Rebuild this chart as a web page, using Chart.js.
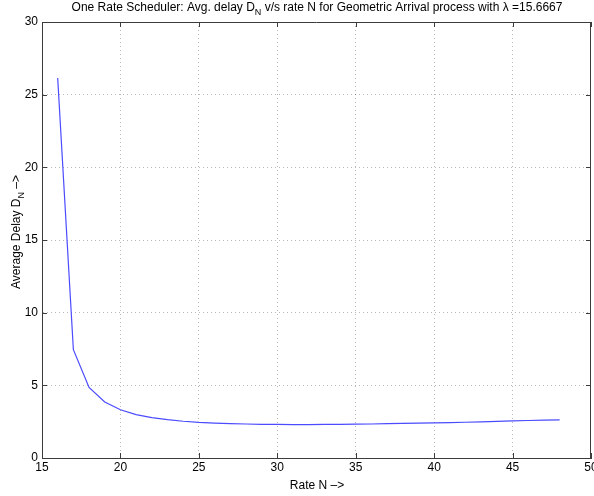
<!DOCTYPE html>
<html>
<head>
<meta charset="utf-8">
<script src="https://cdn.jsdelivr.net/npm/chart.js@4"></script>
<style>
  html, body { margin: 0; padding: 0; background: #fff; }
  #wrap { width: 594px; height: 496px; }
</style>
</head>
<body>
<div id="wrap"><canvas id="myChart" width="594" height="496"></canvas></div>
<script>
// data
let rates = [16, 17, 18, 19, 20, 21, 22, 23, 24, 25, 26, 27, 28, 29, 30, 31, 32,
             33, 34, 35, 36, 37, 38, 39, 40, 41, 42, 43, 44, 45, 46, 47, 48];
let delays = [26.15, 7.45, 4.85, 3.85, 3.32, 2.98, 2.78, 2.64, 2.53, 2.45, 2.40, 2.36, 2.34, 2.32, 2.31, 2.30, 2.30,
              2.31, 2.32, 2.33, 2.34, 2.36, 2.38, 2.40, 2.42, 2.44, 2.46, 2.49, 2.52, 2.55, 2.58, 2.61, 2.63];
let xTicks = [15, 20, 25, 30, 35, 40, 45, 50];
let yTicks = [0, 5, 10, 15, 20, 25, 30];

const FONT = "'Liberation Sans', Arial, sans-serif";
const axisColor = "#3c3c3c";

// text with a subscript part: parts = [[text, isSub], ...]
function partsWidth(ctx, parts, size) {
    let w = 0;
    parts.forEach(p => {
        ctx.font = (p[1] ? size * 0.75 : size) + "px " + FONT;
        w += ctx.measureText(p[0]).width;
    });
    return w;
}
function drawParts(ctx, parts, x, y, size) {
    let cx = x;
    parts.forEach(p => {
        ctx.font = (p[1] ? size * 0.75 : size) + "px " + FONT;
        ctx.fillText(p[0], cx, p[1] ? y + size * 0.3 : y);
        cx += ctx.measureText(p[0]).width;
    });
}

const labelsPlugin = {
    id: "labels",
    afterDraw(chart) {
        const ctx = chart.ctx;
        const area = chart.chartArea;
        const xs = chart.scales.x, ys = chart.scales.y;
        ctx.save();
        // frame top/right + inward ticks
        ctx.strokeStyle = axisColor;
        ctx.lineWidth = 1;
        ctx.beginPath();
        ctx.moveTo(area.left, area.top + 0.5);
        ctx.lineTo(area.right, area.top + 0.5);
        ctx.moveTo(area.right - 0.5, area.top);
        ctx.lineTo(area.right - 0.5, area.bottom);
        xTicks.forEach(v => {
            let px = Math.round(xs.getPixelForValue(v)) + 0.5;
            ctx.moveTo(px, area.bottom); ctx.lineTo(px, area.bottom - 5);
            ctx.moveTo(px, area.top); ctx.lineTo(px, area.top + 5);
        });
        yTicks.forEach(v => {
            let py = Math.round(ys.getPixelForValue(v)) + 0.5;
            ctx.moveTo(area.left, py); ctx.lineTo(area.left + 5, py);
            ctx.moveTo(area.right, py); ctx.lineTo(area.right - 5, py);
        });
        ctx.stroke();

        ctx.fillStyle = "#000";
        ctx.textBaseline = "alphabetic";
        ctx.textAlign = "left";
        const size = 12;
        // title
        const title = [["One Rate Scheduler: Avg. delay D", false], ["N", true],
                       [" v/s rate N for Geometric Arrival process with \u03bb =15.6667", false]];
        let tw = partsWidth(ctx, title, size);
        drawParts(ctx, title, 317 - tw / 2, 11, size);
        // x label
        const xl = [["Rate N \u2013>", false]];
        let xw = partsWidth(ctx, xl, size);
        drawParts(ctx, xl, 317 - xw / 2, 489, size);
        // y label, rotated
        const yl = [["Average Delay D", false], ["N", true], [" \u2013>", false]];
        let yw = partsWidth(ctx, yl, size);
        ctx.translate(20, 232);
        ctx.rotate(-Math.PI / 2);
        drawParts(ctx, yl, -yw / 2, 0, size);
        ctx.restore();
    }
};

new Chart("myChart", {
    type: "line",
    data: {
        datasets: [{
            data: rates.map((r, i) => ({ x: r, y: delays[i] })),
            borderColor: "rgb(75,75,255)",
            borderWidth: 1.2,
            pointRadius: 0,
            tension: 0,
            fill: false
        }]
    },
    plugins: [labelsPlugin],
    options: {
        responsive: false,
        animation: false,
        layout: { padding: { top: 22, right: 3, left: 0, bottom: 0 } },
        plugins: {
            legend: { display: false },
            title: { display: false },
            tooltip: { enabled: false }
        },
        scales: {
            x: {
                type: "linear",
                min: 15, max: 50,
                afterBuildTicks: s => { s.ticks = xTicks.map(v => ({ value: v })); },
                afterFit: s => { s.height = 38; s.paddingLeft = 0; s.paddingRight = 0; },
                ticks: { color: "#000", font: { family: FONT, size: 12 }, padding: 2, maxRotation: 0 },
                grid: {
                    drawTicks: false,
                    color: c => (c.tick && (c.tick.value === 15 || c.tick.value === 50)) ? "rgba(0,0,0,0)" : "rgba(0,0,0,0.28)",
                    lineWidth: 1
                },
                border: { color: axisColor, width: 1, dash: [1, 3] }
            },
            y: {
                type: "linear",
                min: 0, max: 30,
                afterBuildTicks: s => { s.ticks = yTicks.map(v => ({ value: v })); },
                afterFit: s => { s.width = 42; s.paddingTop = 0; s.paddingBottom = 0; },
                ticks: { color: "#000", font: { family: FONT, size: 12 }, padding: 4 },
                grid: {
                    drawTicks: false,
                    color: c => (c.tick && (c.tick.value === 0 || c.tick.value === 30)) ? "rgba(0,0,0,0)" : "rgba(0,0,0,0.28)",
                    lineWidth: 1
                },
                border: { color: axisColor, width: 1, dash: [1, 3] }
            }
        }
    }
});
</script>
</body>
</html>
